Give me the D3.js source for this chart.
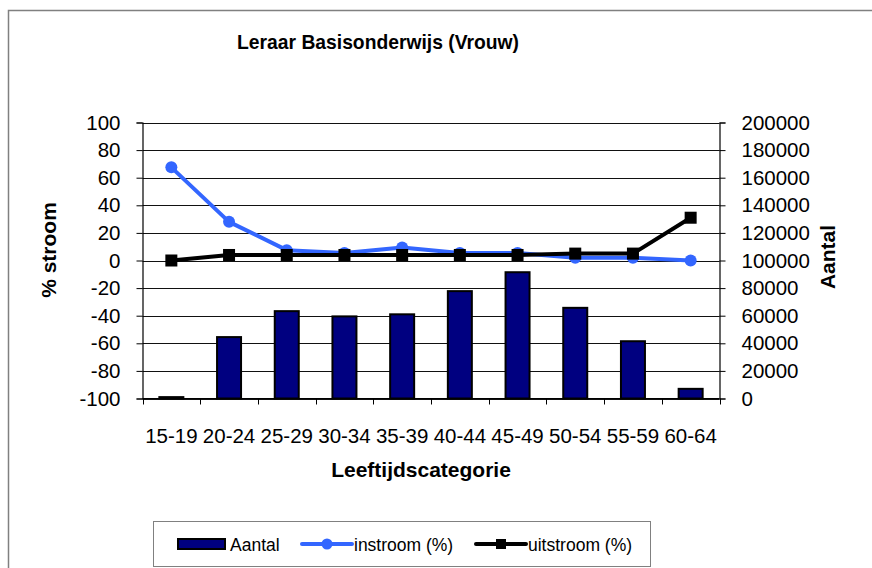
<!DOCTYPE html>
<html><head><meta charset="utf-8">
<script src="https://cdn.jsdelivr.net/npm/d3@7/dist/d3.min.js"></script>
<style>html,body{margin:0;padding:0;background:#fff;}svg{display:block;font-family:"Liberation Sans",Arial,sans-serif;}</style>
</head><body>
<svg id="c" width="872" height="568"></svg>
<script>
const categories = ["15-19","20-24","25-29","30-34","35-39","40-44","45-49","50-54","55-59","60-64"];
const aantal = [1000, 44500, 63300, 59500, 61000, 77800, 91500, 65700, 41500, 7000];
const instroom = [67.5, 28, 7.5, 5.5, 9.5, 5.5, 5.5, 2, 2, 0];
const uitstroom = [0, 4, 4, 4, 4, 4, 4, 5, 5, 31];
const leftTicks = [-100,-80,-60,-40,-20,0,20,40,60,80,100];
const rightTicks = [0,20000,40000,60000,80000,100000,120000,140000,160000,180000,200000];
const title = "Leraar Basisonderwijs (Vrouw)";
const xTitle = "Leeftijdscategorie";
const yLeftTitle = "% stroom";
const yRightTitle = "Aantal";
const seriesNames = ["Aantal","instroom (%)","uitstroom (%)"];

const svg = d3.select("#c");
const L = 142.5, R = 719.5, T = 122.5, B = 398.5;

// outer chart frame
svg.append("rect").attr("x",8.5).attr("y",10.5).attr("width",900).attr("height",600)
  .attr("fill","#fff").attr("stroke","#808080").attr("stroke-width",1.5);

const x = d3.scaleBand().domain(categories).range([L,R]).padding(0);
const yL = d3.scaleLinear().domain([-100,100]).range([B,T]);
const yR = d3.scaleLinear().domain([0,200000]).range([B,T]);

// gridlines
svg.append("g").selectAll("line").data(leftTicks).join("line")
  .attr("x1",L).attr("x2",R).attr("y1",d=>Math.round(yL(d))+0.5).attr("y2",d=>Math.round(yL(d))+0.5)
  .attr("stroke","#111").attr("stroke-width",1);

const fmt = d => String(d);
// left axis
const gl = svg.append("g").attr("transform",`translate(${L},0)`)
  .call(d3.axisLeft(yL).tickValues(leftTicks).tickSize(6).tickPadding(16).tickFormat(fmt));
// right axis
const gr = svg.append("g").attr("transform",`translate(${R},0)`)
  .call(d3.axisRight(yR).tickValues(rightTicks).tickSize(6).tickPadding(16).tickFormat(fmt));
// bottom axis with ticks at category boundaries
const gb = svg.append("g").attr("transform",`translate(0,${B})`)
  .call(d3.axisBottom(x).tickSize(0).tickPadding(30));
gb.selectAll(".bt").data(categories.concat(["_end"])).join("line").attr("class","bt")
  .attr("x1",(d,i)=>Math.round(L + i*x.step())+0.5).attr("x2",(d,i)=>Math.round(L + i*x.step())+0.5)
  .attr("y1",0).attr("y2",6).attr("stroke","#000");
[gl,gr,gb].forEach(g=>{
  g.selectAll(".domain").attr("stroke","#000").attr("stroke-width",1.2);
  g.selectAll(".tick line").attr("stroke","#000");
  g.selectAll("text").attr("font-size","20.5px").attr("fill","#000")
   .attr("font-family","'Liberation Sans',Arial,sans-serif");
});
gb.select(".domain").attr("d",`M${L},0H${R}`);

// bars
const bw = 24;
svg.append("g").selectAll("rect").data(aantal).join("rect")
  .attr("x",(d,i)=>x(categories[i])+x.bandwidth()/2-bw/2)
  .attr("y",d=>yR(d)).attr("width",bw).attr("height",d=>B-yR(d))
  .attr("fill","#000080").attr("stroke","#000").attr("stroke-width",2);

const cx = (i)=>x(categories[i])+x.bandwidth()/2;
const line = d3.line().x((d,i)=>cx(i)).y(d=>yL(d));
// instroom
svg.append("path").datum(instroom).attr("d",line).attr("fill","none")
  .attr("stroke","#3366FF").attr("stroke-width",4).attr("stroke-linejoin","round");
svg.append("g").selectAll("circle").data(instroom).join("circle")
  .attr("cx",(d,i)=>cx(i)).attr("cy",d=>yL(d)).attr("r",6).attr("fill","#3366FF");
// uitstroom
svg.append("path").datum(uitstroom).attr("d",line).attr("fill","none")
  .attr("stroke","#000").attr("stroke-width",4).attr("stroke-linejoin","round");
svg.append("g").selectAll("rect").data(uitstroom).join("rect")
  .attr("x",(d,i)=>cx(i)-6).attr("y",d=>yL(d)-6).attr("width",12).attr("height",12).attr("fill","#000");

// titles
svg.append("text").attr("x",378).attr("y",49).attr("text-anchor","middle")
  .attr("font-size","19.3px").attr("font-weight","bold").text(title);
svg.append("text").attr("x",421).attr("y",477).attr("text-anchor","middle")
  .attr("font-size","21px").attr("font-weight","bold").text(xTitle);
svg.append("text").attr("transform","translate(56,250) rotate(-90)").attr("text-anchor","middle")
  .attr("font-size","21px").attr("font-weight","bold").text(yLeftTitle);
svg.append("text").attr("transform","translate(835,257) rotate(-90)").attr("text-anchor","middle")
  .attr("font-size","21px").attr("font-weight","bold").text(yRightTitle);

// legend
const lg = svg.append("g");
lg.append("rect").attr("x",153.5).attr("y",521.5).attr("width",497).attr("height",45)
  .attr("fill","#fff").attr("stroke","#808080").attr("stroke-width",1);
const ly = 544;
lg.append("rect").attr("x",178).attr("y",ly-5).attr("width",47).attr("height",10)
  .attr("fill","#000080").attr("stroke","#000").attr("stroke-width",2);
lg.append("text").attr("x",230).attr("y",ly+6.5).attr("font-size","17.5px").text(seriesNames[0]);
lg.append("line").attr("x1",302).attr("x2",352).attr("y1",ly).attr("y2",ly)
  .attr("stroke","#3366FF").attr("stroke-width",4).attr("stroke-linecap","round");
lg.append("circle").attr("cx",327).attr("cy",ly).attr("r",5.5).attr("fill","#3366FF");
lg.append("text").attr("x",354).attr("y",ly+6.5).attr("font-size","17.5px").text(seriesNames[1]);
lg.append("line").attr("x1",476).attr("x2",526).attr("y1",ly).attr("y2",ly)
  .attr("stroke","#000").attr("stroke-width",4).attr("stroke-linecap","round");
lg.append("rect").attr("x",496).attr("y",ly-5).attr("width",10).attr("height",10).attr("fill","#000");
lg.append("text").attr("x",528).attr("y",ly+6.5).attr("font-size","17.5px").text(seriesNames[2]);
</script>
</body></html>
